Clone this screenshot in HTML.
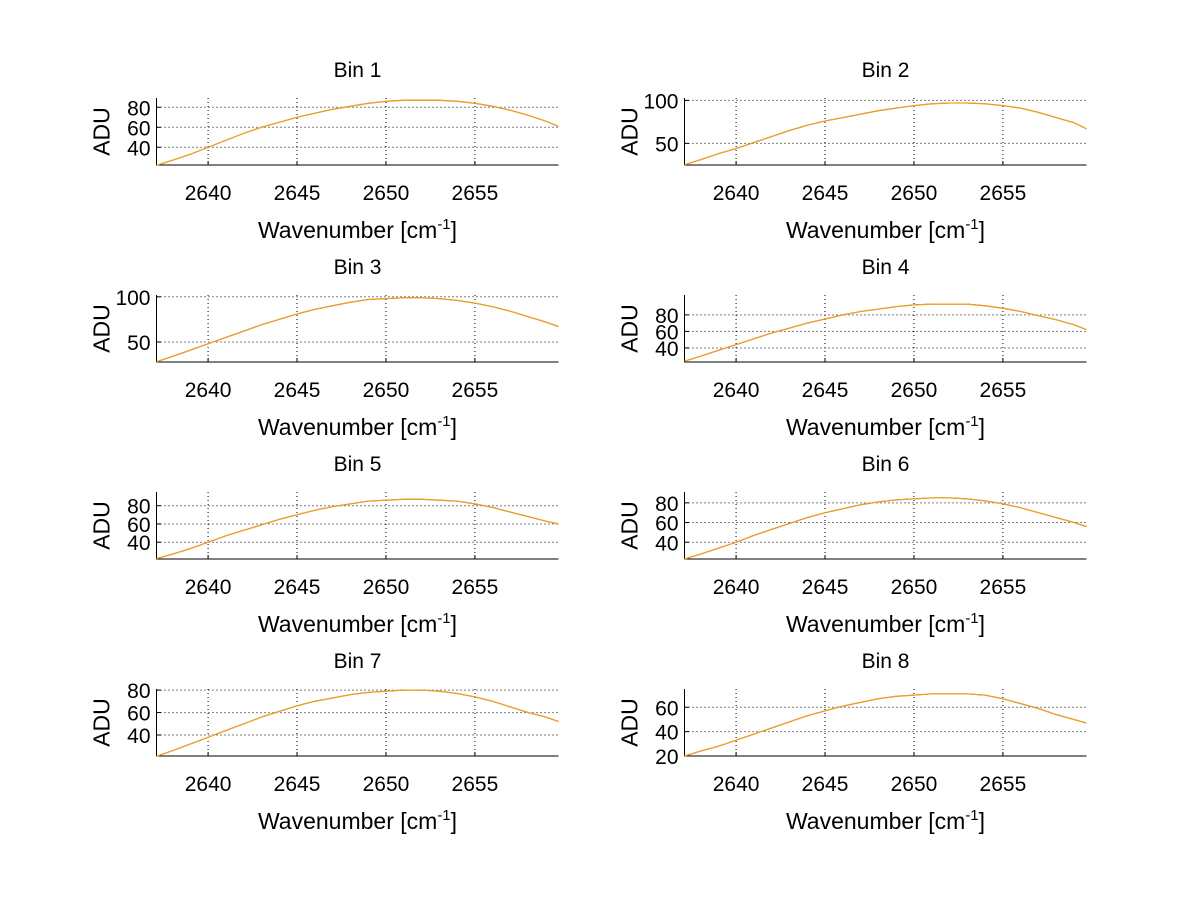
<!DOCTYPE html>
<html><head><meta charset="utf-8"><style>
body{margin:0;background:#fff;}
svg text{font-family:"Liberation Sans",sans-serif;fill:#000;}
</style></head><body>
<svg id="fig" width="1200" height="901" viewBox="0 0 1200 901" xmlns="http://www.w3.org/2000/svg"></svg>
<script>
const wavenumbers=[2637.1,2638,2639,2640,2641,2642,2643,2644,2645,2646,2647,2648,2649,2650,2651,2652,2653,2654,2655,2656,2657,2658,2659,2659.7];
const xTicks=[2640,2645,2650,2655];
const bin1=[22,27,33,40,47,54,60,65,70,74,78,81,84,86,87,87,87,86,84,81,77,72,66,61];
const bin2=[25,31,38,44,51,58,65,71,76,80,84,88,91,94,96,97,97,96,94,91,86,80,74,67];
const bin3=[28,34,41,48,55,62,69,75,81,86,90,94,97,98,99,99,98,96,93,89,84,78,72,67];
const bin4=[24,30,37,44,51,58,64,70,75,80,84,87,90,92,93,93,93,91,88,84,79,74,68,62];
const bin5=[22,27,33,40,47,53,59,65,70,75,79,82,85,86,87,87,86,85,82,78,73,68,63,60];
const bin6=[23,28,34,40,47,53,59,65,70,74,78,81,83,84,85,85,84,82,79,75,70,65,60,56];
const bin7=[21,26,32,38,44,50,56,61,66,70,73,76,78,79,80,80,79,77,74,70,65,60,56,52];
const bin8=[20,24,28,33,38,43,48,53,57,61,64,67,69,70,71,71,71,70,67,63,59,54,50,47];
const binSeries=[bin1,bin2,bin3,bin4,bin5,bin6,bin7,bin8];
const yDomains=[[22.3,89.3],[24.8,102.8],[27.8,102],[23,104],[21.6,95],[23,91],[21.3,81],[20,75]];
const yTickSets=[[40,60,80],[50,100],[50,100],[40,60,80],[40,60,80],[40,60,80],[40,60,80],[20,40,60]];

const NS="http://www.w3.org/2000/svg";
const svg=document.getElementById('fig');
function mk(tag,attrs,parent){const e=document.createElementNS(NS,tag);for(const k in attrs)e.setAttribute(k,attrs[k]);(parent||svg).appendChild(e);return e;}
const xDom=[2637.1,2659.7];
for(let i=0;i<8;i++){
  const col=i%2,row=Math.floor(i/2);
  const L=col?684.5:156.5,R=col?1086.5:558.5;
  const T=98+row*197,B=165+row*197;
  const sx=v=>L+(v-xDom[0])/(xDom[1]-xDom[0])*(R-L);
  const yd=yDomains[i];
  const sy=v=>B-(v-yd[0])/(yd[1]-yd[0])*(B-T);
  const g=mk('g',{});
  
  
  const cx=(L+R)/2;
  const t=mk('text',{x:cx,y:T-21,'font-size':21,'text-anchor':'middle'},g);t.textContent='Bin '+(i+1);
  
  xTicks.forEach(v=>{const x=sx(v);
    const gl=mk('line',{x1:x,x2:x,y1:T,y2:B,stroke:'#000','stroke-width':1,'stroke-dasharray':'1,3'},g);
    
    mk('line',{x1:x,x2:x,y1:B,y2:B-4,stroke:'#000'},g);
    const tl=mk('text',{x:x,y:B+35,'font-size':21,'text-anchor':'middle'},g);tl.textContent=v;
    
  });
  yTickSets[i].forEach(v=>{const y=sy(v);
    const gl=mk('line',{x1:L,x2:R,y1:y,y2:y,stroke:'#000','stroke-width':1,'stroke-dasharray':'1,3'},g);
    
    mk('line',{x1:L,x2:L+4,y1:y,y2:y,stroke:'#000'},g);
    const tl=mk('text',{x:L-6,y:y+8,'font-size':21,'text-anchor':'end'},g);tl.textContent=v;
    
  });
  const ax=mk('path',{d:`M${L},${T}V${B}H${R}`,fill:'none',stroke:'#000','stroke-width':1},g);
  
  const xl=mk('text',{x:cx,y:B+73,'font-size':23,'text-anchor':'middle'},g);
  xl.innerHTML='Wavenumber [cm<tspan dy="-9" font-size="15">-1</tspan><tspan dy="9">]</tspan>';
  
  const yl=mk('text',{x:0,y:0,'font-size':23,'text-anchor':'middle',transform:`translate(${L-47},${(T+B)/2}) rotate(-90)`},g);
  yl.textContent='ADU';
  
  const d=binSeries[i].map((v,k)=>(k?'L':'M')+sx(wavenumbers[k]).toFixed(1)+','+sy(v).toFixed(1)).join('');
  const p1=mk('path',{d:d,fill:'none',stroke:'#4b1a7a','stroke-width':1},g);
  
  const p2=mk('path',{d:d,fill:'none',stroke:'#f0a020','stroke-width':1.3},g);
  
}
</script>
</body></html>
